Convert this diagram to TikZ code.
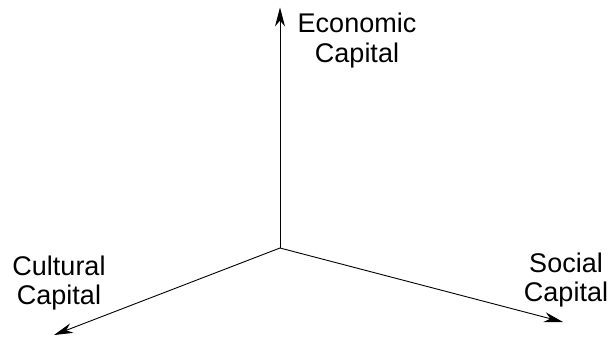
\documentclass[tikz,border=0pt]{standalone}
\usepackage{fontspec}
\setmainfont{Liberation Sans}
\usetikzlibrary{arrows.meta}
\begin{document}
\begin{tikzpicture}[x=1pt,y=-1pt,
  axis/.style={line width=0.9pt,-{Stealth[length=19pt,width=10pt,inset=6pt]}},
  lbl/.style={font=\fontsize{27}{29}\selectfont,align=center,inner sep=0pt,anchor=base}]
\useasboundingbox (0,0) rectangle (609,337);
\coordinate (O) at (280,248);
\coordinate (E) at (280,7.5);
\coordinate (S) at (563,322);
\coordinate (C) at (54,335);
\draw[axis] (O) -- (E);
\draw[axis] (O) -- (S);
\draw[axis] (O) -- (C);
\node[lbl] (econ) at (357,62) {Economic\\Capital};
\node[lbl] (cult) at (59,304) {Cultural\\Capital};
\node[lbl] (soc) at (566,301) {Social\\Capital};
\end{tikzpicture}
\end{document}
